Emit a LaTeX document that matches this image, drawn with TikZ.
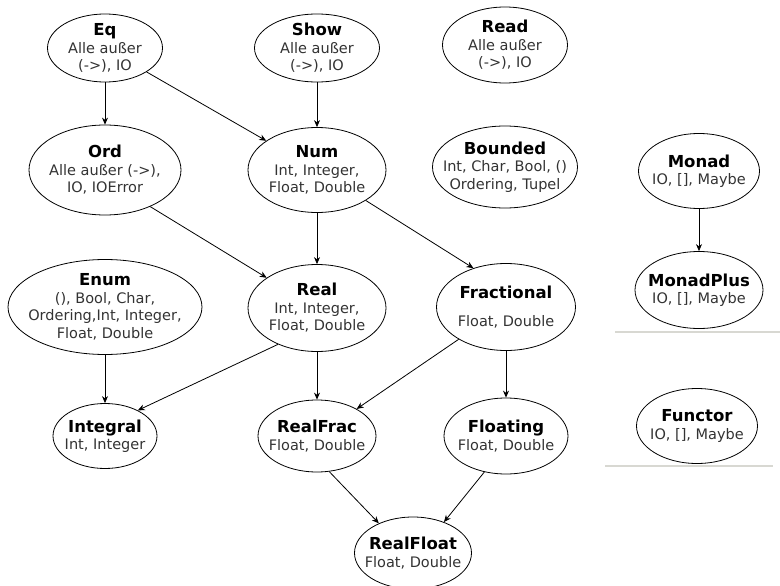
\documentclass[tikz,border=0pt]{standalone}
\usepackage{fontspec}
\setmainfont{DejaVu Sans}
\usetikzlibrary{shapes.geometric,arrows.meta}
\newcommand\ttl[1]{{\fontsize{16.5}{18}\selectfont\bfseries\color{black}#1}}
\definecolor{sepgray}{RGB}{216,216,210}
\begin{document}
\begin{tikzpicture}[x=1pt,y=-1pt,
  cls/.style={ellipse, draw, line width=0.8pt, inner sep=0pt},
  txt/.style={align=center, font=\fontsize{14.5}{17.5}\selectfont, text=black!80, inner sep=0pt},
  ar/.style={-{Stealth[length=7pt,width=6pt]}, line width=0.8pt}]
\useasboundingbox (0,0) rectangle (780,586);
\fill[white] (0,0) rectangle (780,586);

\node[cls, minimum width=115pt, minimum height=68pt, label={[txt]center:{\ttl{Eq}\\Alle außer\\(->), IO}}] (eq) at (105,48) {};
\node[cls, minimum width=125pt, minimum height=68pt, label={[txt]center:{\ttl{Show}\\Alle außer\\(->), IO}}] (show) at (317,48) {};
\node[cls, minimum width=125pt, minimum height=76pt, label={[txt]center:{\ttl{Read}\\Alle außer\\(->), IO}}] (read) at (505,45) {};

\node[cls, minimum width=152pt, minimum height=90pt, label={[txt]center:{\ttl{Ord}\\Alle außer (->),\\IO, IOError}}] (ord) at (105,170) {};
\node[cls, minimum width=138pt, minimum height=85pt, label={[txt]center:{\ttl{Num}\\Int, Integer,\\Float, Double}}] (num) at (317,170) {};
\node[cls, minimum width=145pt, minimum height=82pt, label={[txt]center:{\ttl{Bounded}\\Int, Char, Bool, ()\\Ordering, Tupel}}] (bounded) at (505,167) {};
\node[cls, minimum width=121pt, minimum height=75pt, label={[txt]center:{\ttl{Monad}\\IO, [], Maybe}}] (monad) at (699,171) {};

\node[cls, minimum width=194pt, minimum height=95pt, label={[txt]center:{\ttl{Enum}\\(), Bool, Char,\\Ordering,Int, Integer,\\Float, Double}}] (enum) at (105,307) {};
\node[cls, minimum width=138pt, minimum height=87pt, label={[txt]center:{\ttl{Real}\\Int, Integer,\\Float, Double}}] (real) at (317,308) {};
\node[cls, minimum width=139pt, minimum height=87pt, label={[txt]center:{\ttl{Fractional}\\[11pt]Float, Double}}] (fractional) at (506,307) {};
\node[cls, minimum width=128pt, minimum height=77pt, label={[txt]center:{\ttl{MonadPlus}\\IO, [], Maybe}}] (monadplus) at (699,290) {};

\node[cls, minimum width=104pt, minimum height=65pt, label={[txt]center:{\ttl{Integral}\\Int, Integer}}] (integral) at (105,436) {};
\node[cls, minimum width=118pt, minimum height=72pt, label={[txt]center:{\ttl{RealFrac}\\Float, Double}}] (realfrac) at (317,436) {};
\node[cls, minimum width=124pt, minimum height=76pt, label={[txt]center:{\ttl{Floating}\\Float, Double}}] (floating) at (506,436) {};
\node[cls, minimum width=121pt, minimum height=75pt, label={[txt]center:{\ttl{Functor}\\IO, [], Maybe}}] (functor) at (697,426) {};
\node[cls, minimum width=117pt, minimum height=72pt, label={[txt]center:{\ttl{RealFloat}\\Float, Double}}] (realfloat) at (413,553) {};

\draw[ar] (eq) -- (ord);
\draw[ar] (eq) -- (num);
\draw[ar] (show) -- (num);
\draw[ar] (ord.-39) -- (real.149);
\draw[ar] (num) -- (real);
\draw[ar] (num.-32) -- (fractional.130);
\draw[ar] (enum) -- (integral);
\draw[ar] (real.223) -- (integral.38);
\draw[ar] (real) -- (realfrac);
\draw[ar] (fractional) -- (realfrac);
\draw[ar] (fractional) -- (floating);
\draw[ar] (realfrac.-71) -- (realfloat.139);
\draw[ar] (floating.-121) -- (realfloat.45);
\draw[ar] (monad) -- (monadplus);

\coordinate (sa) at (615,332);
\coordinate (sb) at (780,332);
\coordinate (sc) at (605,466);
\coordinate (sd) at (773,466);
\draw[sepgray, line width=2pt] (sa) -- (sb);
\draw[sepgray, line width=2pt] (sc) -- (sd);
\end{tikzpicture}
\end{document}
